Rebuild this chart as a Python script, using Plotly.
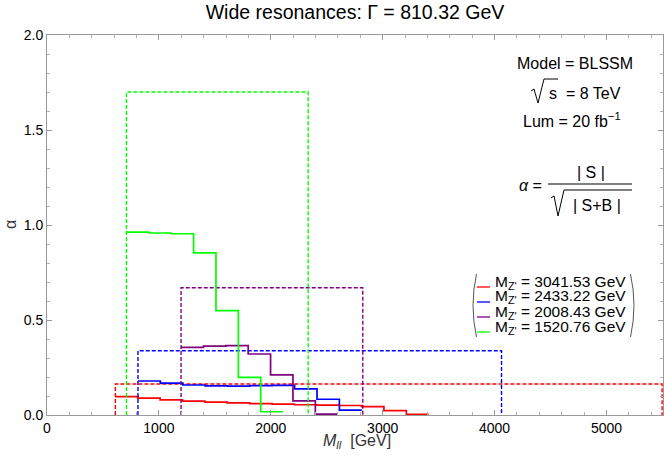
import plotly.graph_objects as go

# ---------------- data ----------------
title_text = "Wide resonances: Γ = 810.32 GeV"
masses = ["3041.53", "2433.22", "2008.43", "1520.76"]
colors = ["#FF0000", "#0000FF", "#800080", "#00FF00"]

# solid step histograms: bin edges and bin values
red_edges = [611, 811, 1011, 1211, 1411, 1611, 1811, 2011, 2211, 2411, 2611, 2811, 3011, 3211, 3411]
red_vals = [0.097, 0.089, 0.080, 0.073, 0.068, 0.064, 0.060, 0.057, 0.054, 0.052, 0.050, 0.044, 0.023, 0.004]

blue_edges = [813, 1013, 1213, 1413, 1613, 1813, 2013, 2213, 2413, 2613, 2813]
blue_vals = [0.179, 0.168, 0.158, 0.153, 0.152, 0.155, 0.156, 0.137, 0.083, 0.026]

purple_edges = [1198, 1398, 1598, 1798, 1998, 2198, 2398, 2598]
purple_vals = [0.356, 0.363, 0.365, 0.321, 0.211, 0.074, 0.005]

green_edges = [710, 910, 1110, 1310, 1510, 1710, 1910, 2110]
green_vals = [0.962, 0.958, 0.954, 0.853, 0.549, 0.198, 0.017]

# dashed windows: left, right, height
red_box = [611, 5497, 0.163]
blue_box = [813, 4062, 0.338]
purple_box = [1198, 2822, 0.670]
green_box = [710, 2334, 1.700]

x_range = [0, 5505]
y_range = [0, 2.0]

# ---------------- layout geometry (pixels) ----------------
W, H = 664, 461
ML, MR, MT, MB = 47, 1, 35, 46
PW, PH = W - ML - MR, H - MT - MB


def px(x):
    return (x - ML) / PW


def py(y):
    return (H - MB - y) / PH


FONT = "Liberation Sans, Arial, Helvetica, sans-serif"

fig = go.Figure()

hists = [(red_edges, red_vals), (blue_edges, blue_vals),
         (purple_edges, purple_vals), (green_edges, green_vals)]
boxes = [red_box, blue_box, purple_box, green_box]

for (edges, vals), box, col in zip(hists, boxes, colors):
    l, r, h = box
    fig.add_trace(go.Scatter(
        x=[l, l, r, r], y=[0, h, h, 0], mode="lines",
        line=dict(color=col, width=1.4, dash="4px,2px"),
        hoverinfo="skip", showlegend=False))
    fig.add_trace(go.Scatter(
        x=edges, y=list(vals) + [vals[-1]], mode="lines",
        line=dict(color=col, width=1.7, shape="hv"),
        hoverinfo="skip", showlegend=False))

axis_common = dict(
    showgrid=False, zeroline=False, showline=True, linecolor="#9a9a9a",
    linewidth=1, mirror="ticks", ticks="inside", tickcolor="#9a9a9a",
    ticklen=5, tickwidth=1,
    tickfont=dict(family=FONT, size=14, color="black"),
)

fig.update_xaxes(range=x_range, dtick=1000, tick0=0,
                 minor=dict(ticks="inside", dtick=200, ticklen=3,
                            tickcolor="#b0b0b0"),
                 **axis_common)
fig.update_yaxes(range=y_range, dtick=0.5, tick0=0, tickformat=".1f",
                 minor=dict(ticks="inside", dtick=0.1, ticklen=3,
                            tickcolor="#b0b0b0"),
                 **axis_common)


def A(x, y, text, size=16, anchor="center", color="black", **kw):
    return dict(x=px(x), y=py(y), xref="paper", yref="paper", text=text,
                showarrow=False, xanchor=anchor, yanchor="middle",
                font=dict(family=FONT, size=size, color=color), **kw)


ann = []
# axis labels
ann.append(A(357, 442, "<i>M</i><sub><i>ll</i></sub>  [GeV]", size=16, color="#333333"))
ann.append(A(10, 225, "α", size=16, color="#333333", textangle=-90))

# info text
ann.append(A(575, 63, "Model = BLSSM"))
ann.append(A(547, 93, "s  = 8 TeV", anchor="left"))
ann.append(A(572, 120, "Lum = 20 fb<sup>−1</sup>"))
ann.append(A(530, 185, "<i>α</i> ="))
ann.append(A(591, 172, "| S |"))
ann.append(A(597, 206, "| S+B |"))

# legend text
leg_y = [282, 297, 312, 327]
for m, ly in zip(masses, leg_y):
    ann.append(A(493, ly, "M<sub>Z'</sub> = " + m + " GeV", size=15.5, anchor="left"))

shapes = []


def path_shape(pts, color="black", width=1):
    d = "M " + " L ".join(f"{px(a):.5f},{py(b):.5f}" for a, b in pts)
    return dict(type="path", xref="paper", yref="paper", path=d,
                line=dict(color=color, width=width))


# legend line samples
for col, ly in zip(colors, leg_y):
    shapes.append(path_shape([(477, ly + 5), (490, ly + 5)], color=col, width=1.3))


def paren(x0, bulge, y0, y1):
    d = (f"M {px(x0):.5f},{py(y0):.5f} Q {px(x0 + bulge):.5f},{py((y0 + y1) / 2):.5f} "
         f"{px(x0):.5f},{py(y1):.5f}")
    return dict(type="path", xref="paper", yref="paper", path=d,
                line=dict(color="#555555", width=1))


shapes.append(paren(476.5, -7, 274, 337))
shapes.append(paren(630.5, 7, 274, 337))

# sqrt(s)
shapes.append(path_shape([(531, 91), (534, 89), (538, 103), (544, 79), (558, 79)], width=1))
# fraction bar
shapes.append(path_shape([(548, 184), (632, 184)], width=1))
# sqrt in denominator
shapes.append(path_shape([(551, 198), (554, 196), (558, 216), (564, 190), (632, 190)], width=1))

fig.update_layout(
    width=W, height=H,
    margin=dict(l=ML, r=MR, t=MT, b=MB, pad=0),
    paper_bgcolor="white", plot_bgcolor="white",
    title=dict(text=title_text, xref="container", x=355 / W, xanchor="center",
               yref="container", y=1 - 12 / H, yanchor="middle",
               font=dict(family=FONT, size=19.5, color="black")),
    annotations=ann, shapes=shapes, showlegend=False,
)

fig.write_html("out.html", config={"displayModeBar": False},
               post_script="document.body.style.margin='0px';")
